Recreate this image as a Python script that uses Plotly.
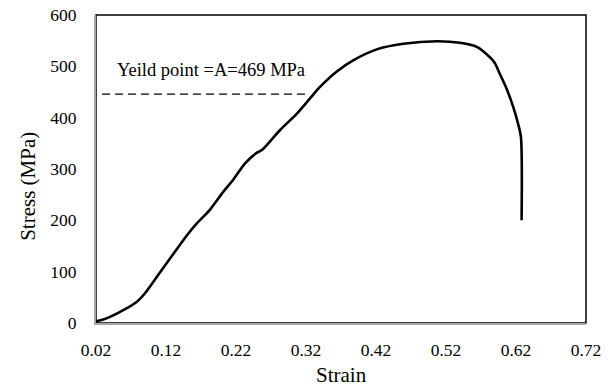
import plotly.graph_objects as go

# Stress-strain curve data
strain = [0.020, 0.035, 0.059, 0.078, 0.090, 0.107, 0.126, 0.150, 0.164, 0.183,
          0.202, 0.216, 0.233, 0.250, 0.257, 0.283, 0.307, 0.326, 0.340, 0.364,
          0.388, 0.421, 0.459, 0.507, 0.540, 0.564, 0.588, 0.597, 0.607, 0.616,
          0.623, 0.627, 0.628]
stress = [3, 9, 25, 41, 58, 90, 126, 171, 194, 221,
          256, 279, 311, 332, 337, 376, 408, 438, 460, 490,
          512, 533, 544, 549, 546, 538, 510, 485, 455, 421,
          388, 363, 200]

# Yield reference line
yield_x = [0.0286, 0.325]
yield_y = [446, 446]
yield_label = "Yeild point =A=469 MPa"

x_ticks = [0.02, 0.12, 0.22, 0.32, 0.42, 0.52, 0.62, 0.72]
x_tick_text = ["0.02", "0.12", "0.22", "0.32", "0.42", "0.52", "0.62", "0.72"]
y_ticks = [0, 100, 200, 300, 400, 500, 600]

FONT = "Liberation Serif"

fig = go.Figure()
fig.add_trace(go.Scatter(x=yield_x, y=yield_y, mode="lines",
                         line=dict(color="black", width=1.3, dash="8px,5px"),
                         showlegend=False, hoverinfo="skip"))
fig.add_trace(go.Scatter(x=strain, y=stress, mode="lines",
                         line=dict(color="black", width=2.6, shape="spline", smoothing=0.8),
                         showlegend=False))

fig.update_layout(
    width=616, height=390,
    margin=dict(l=96, r=30, t=15, b=67, autoexpand=False),
    paper_bgcolor="white", plot_bgcolor="white",
    font=dict(family=FONT, color="black", size=17),
    xaxis=dict(range=[0.02, 0.72], tickvals=x_ticks, ticktext=x_tick_text,
               showgrid=False, zeroline=False, showline=True, linecolor="#a6a6a6",
               linewidth=2, ticks="", ticklabelstandoff=10,
               tickfont=dict(size=17.5, family=FONT, color="black")),
    yaxis=dict(range=[0, 600], tickvals=y_ticks, showgrid=False, zeroline=False,
               showline=True, linecolor="#a6a6a6", linewidth=2, ticks="",
               ticklabelstandoff=14,
               tickfont=dict(size=17.5, family=FONT, color="black")),
    shapes=[dict(type="rect", xref="paper", yref="paper", x0=0, x1=1, y0=0, y1=1,
                 line=dict(color="black", width=1.5), layer="below")],
    annotations=[
        dict(x=0.047, y=493, xref="x", yref="y", text=yield_label, showarrow=False,
             xanchor="left", yanchor="middle", font=dict(size=18.5, family=FONT, color="black")),
        dict(x=0.5, y=-0.17, xref="paper", yref="paper", text="Strain", showarrow=False,
             xanchor="center", yanchor="middle", font=dict(size=21, family=FONT, color="black")),
        dict(x=-0.139, y=0.445, xref="paper", yref="paper", text="Stress (MPa)", showarrow=False,
             textangle=-90, xanchor="center", yanchor="middle",
             font=dict(size=21, family=FONT, color="black")),
    ],
)

fig.write_html("out.html", config={"displayModeBar": False},
               post_script="document.body.style.margin='0';")
